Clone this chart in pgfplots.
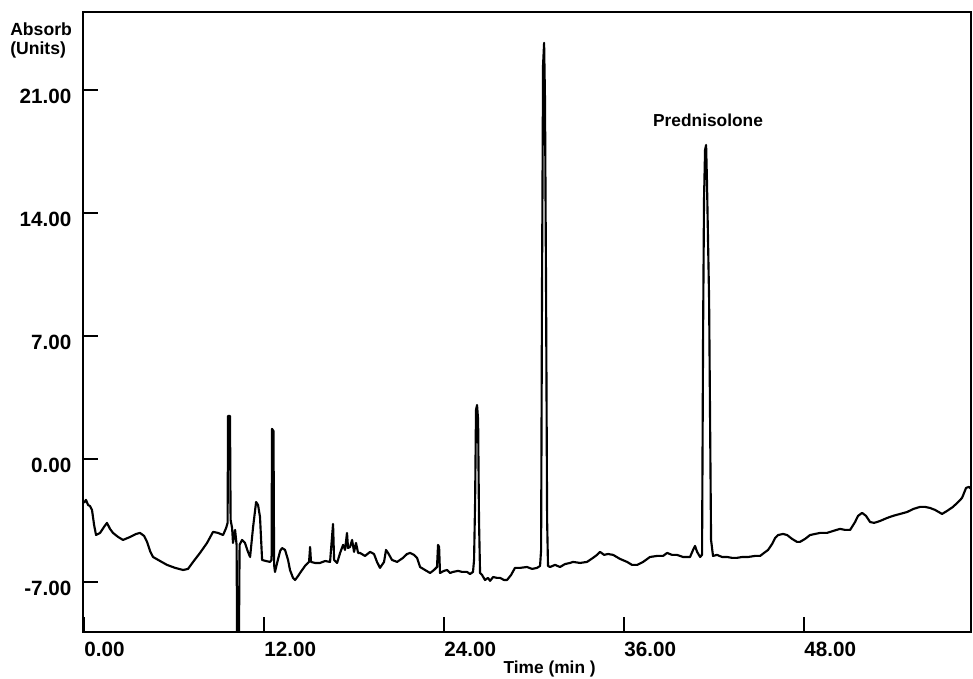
\documentclass[border=0pt]{standalone}
\usepackage{pgfplots}
\pgfplotsset{compat=1.18}
\usepackage{fontspec}
\setmainfont{Liberation Sans}
\begin{document}
\begin{tikzpicture}
\begin{axis}[
  at={(0,0)}, anchor=south west,
  scale only axis, width=666pt, height=465pt,
  xmin=-0.07, xmax=59.13, ymin=-9.85, ymax=25.44,
  axis line style={line width=1.7pt},
  tick style={line width=0.9pt, black},
  tick align=inside, major tick length=11pt,
  xtick pos=bottom, ytick pos=left,
  xtick={0,12,24,36,48}, xticklabels={0.00,12.00,24.00,36.00,48.00},
  ytick={-7,0,7,14,21}, yticklabels={-7.00,0.00,7.00,14.00,21.00},
  tick label style={font=\fontsize{15.5}{17}\selectfont\bfseries},
  xticklabel style={anchor=north west, inner sep=0pt, yshift=-7.5pt},
  yticklabel style={anchor=east, inner sep=0pt, xshift=-8.5pt, yshift=-5pt},
  clip=true,
]
\addplot[black, line width=1.6pt, line join=round, mark=none] coordinates {
(0,-2.50) (0.13,-2.33) (0.27,-2.62) (0.4,-2.68) (0.53,-2.90) (0.67,-3.76) (0.8,-4.33)
(1.07,-4.21) (1.33,-3.87) (1.53,-3.64) (1.73,-3.98) (1.93,-4.21) (2.27,-4.44) (2.6,-4.61)
(3.07,-4.44) (3.47,-4.27) (3.73,-4.21) (4.0,-4.38) (4.2,-4.72) (4.4,-5.24) (4.6,-5.58)
(5.07,-5.81) (5.53,-6.03) (6.07,-6.20) (6.6,-6.32) (6.93,-6.26) (7.27,-5.86) (7.73,-5.35)
(8.2,-4.78) (8.6,-4.15) (8.93,-4.21) (9.27,-4.33) (9.47,-3.93) (9.57,-3.64)
(9.6,2.45) (9.73,2.45) (9.77,-3.47) (9.87,-3.93) (9.93,-4.78) (10.07,-4.04) (10.17,-4.89)
(10.2,-9.8) (10.33,-9.8) (10.37,-4.89) (10.53,-4.61) (10.73,-4.78) (10.93,-5.29) (11.07,-5.58)
(11.27,-3.87) (11.47,-2.45) (11.6,-2.62) (11.73,-3.30) (11.87,-5.75) (12.13,-5.81) (12.4,-5.86)
(12.5,-5.75) (12.53,1.71) (12.63,1.59) (12.67,-6.03) (12.73,-6.43) (12.87,-5.92) (13.07,-5.24)
(13.2,-5.07) (13.4,-5.18) (13.6,-5.75) (13.73,-6.32) (13.93,-6.77) (14.07,-6.89) (14.27,-6.66)
(14.4,-6.49) (14.73,-6.09) (15.0,-5.86) (15.07,-5.01) (15.13,-5.86) (15.4,-5.92) (15.73,-5.92)
(16.07,-5.81) (16.4,-5.86) (16.6,-3.70) (16.67,-5.75) (16.87,-5.92) (17.07,-5.35) (17.27,-4.89)
(17.4,-5.18) (17.53,-4.21) (17.6,-5.07) (17.73,-5.01) (17.87,-4.61) (18.0,-5.29) (18.13,-4.78)
(18.27,-5.35) (18.4,-5.35) (18.73,-5.52) (19.07,-5.29) (19.33,-5.41) (19.53,-5.86) (19.73,-6.20)
(20.0,-5.86) (20.13,-5.18) (20.27,-5.35) (20.53,-5.75) (20.87,-5.86) (21.27,-5.63) (21.53,-5.41)
(21.73,-5.35) (22.0,-5.46) (22.2,-5.63) (22.4,-6.15) (22.73,-6.32) (23.07,-6.49) (23.33,-6.32)
(23.53,-6.15) (23.6,-4.89) (23.67,-5.01) (23.73,-6.49) (24.0,-6.37) (24.2,-6.32) (24.4,-6.49)
(24.6,-6.43) (24.93,-6.37) (25.2,-6.43) (25.53,-6.43) (25.73,-6.55) (25.93,-6.43)
(26.0,-5.75) (26.07,-2.45) (26.13,2.79) (26.2,3.07) (26.27,2.22) (26.33,-3.47) (26.4,-6.49)
(26.53,-6.60) (26.73,-6.89) (26.93,-6.77) (27.07,-6.94) (27.27,-6.72) (27.53,-6.77) (27.73,-6.77)
(28.0,-6.89) (28.2,-6.89) (28.47,-6.60) (28.73,-6.20) (29.07,-6.20) (29.53,-6.15) (29.87,-6.26)
(30.2,-6.20) (30.4,-6.09)
(30.47,-5.18) (30.53,9.62) (30.6,22.42) (30.67,23.68) (30.73,20.43) (30.8,9.62) (30.87,-3.47) (30.93,-6.09)
(31.07,-6.15) (31.4,-6.03) (31.73,-6.15) (32.07,-5.98) (32.4,-5.92) (32.6,-5.86) (33.07,-5.92)
(33.53,-5.86) (33.93,-5.63) (34.2,-5.46) (34.4,-5.29) (34.67,-5.46) (34.93,-5.41) (35.27,-5.46)
(35.73,-5.69) (36.2,-5.86) (36.53,-6.03) (36.87,-6.03) (37.27,-5.86) (37.73,-5.58) (38.2,-5.52)
(38.6,-5.52) (38.87,-5.35) (39.2,-5.46) (39.53,-5.46) (39.93,-5.58) (40.4,-5.58) (40.6,-5.18)
(40.73,-4.95) (40.87,-5.29) (41.07,-5.58)
(41.2,-5.46) (41.27,7.34) (41.33,14.74) (41.4,17.59) (41.47,17.87) (41.53,15.71) (41.67,9.05) (41.8,-4.61) (41.93,-5.52)
(42.2,-5.46) (42.53,-5.58) (42.87,-5.58) (43.2,-5.63) (43.53,-5.63) (43.87,-5.58) (44.27,-5.58)
(44.73,-5.52) (45.07,-5.52) (45.33,-5.35) (45.6,-5.18) (45.87,-4.84) (46.07,-4.50) (46.27,-4.33)
(46.6,-4.27) (46.87,-4.33) (47.2,-4.55) (47.53,-4.72) (47.73,-4.72) (48.07,-4.55) (48.4,-4.33)
(48.73,-4.27) (49.07,-4.21) (49.53,-4.21) (49.93,-4.10) (50.4,-3.98) (50.73,-4.04) (51.07,-4.04)
(51.4,-3.59) (51.6,-3.24) (51.87,-3.07) (52.13,-3.24) (52.4,-3.59) (52.67,-3.64) (53.07,-3.53)
(53.53,-3.36) (53.93,-3.24) (54.4,-3.13) (54.87,-3.02) (55.27,-2.85) (55.73,-2.73) (56.07,-2.73)
(56.4,-2.79) (56.73,-2.90) (57.2,-3.13) (57.53,-2.96) (57.93,-2.73) (58.27,-2.45) (58.53,-2.22)
(58.8,-1.65) (59.0,-1.59) (59.13,-1.71)
};
\node[anchor=base, inner sep=0pt, font=\fontsize{13}{15}\selectfont\bfseries] at (axis cs:41.6,18.9) {Prednisolone};
\end{axis}
\node[anchor=north west, inner sep=0pt, align=left, font=\fontsize{13.2}{14.5}\selectfont\bfseries] at (-54.75pt,457.5pt) {Absorb\\(Units)};
\node[anchor=base, inner sep=0pt, font=\fontsize{13}{15}\selectfont\bfseries] at (350pt,-30.75pt) {Time (min )};
\pgfresetboundingbox
\path[use as bounding box] (-62.25pt,-34.5pt) rectangle (667.5pt,474pt);
\end{tikzpicture}
\end{document}
